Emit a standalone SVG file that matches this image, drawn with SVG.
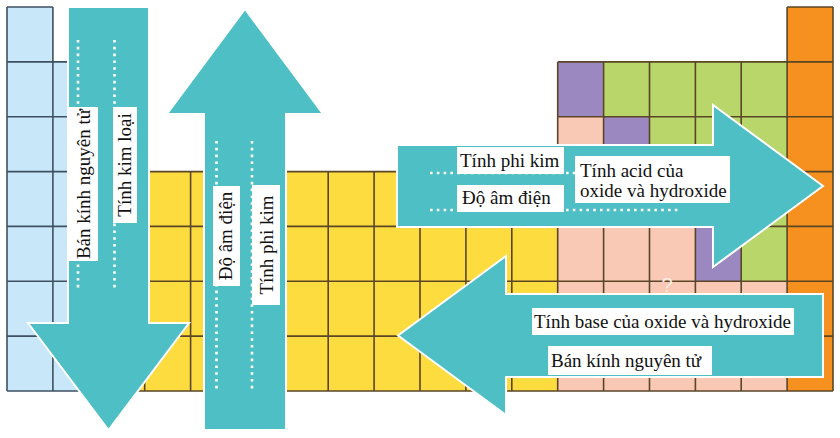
<svg xmlns="http://www.w3.org/2000/svg" width="840" height="438" viewBox="0 0 840 438">
<style>
.lb{fill:#c8e7f8}
.ye{fill:#fcdc3f}
.pk{fill:#fac9b5}
.gr{fill:#b9d66b}
.pu{fill:#9c88c1}
.or{fill:#f6901f}
.gb{fill:none;stroke:#3f5063;stroke-width:1.6}
.gl{fill:none;stroke:#5a4627;stroke-width:1.6}
.arrow{fill:#4ebfc4;stroke:#ffffff;stroke-width:2;stroke-linejoin:miter}
.dot{fill:none;stroke:#ffffff;stroke-width:2.6;stroke-dasharray:2.6 4.2}
.box{fill:#ffffff}
</style>
<rect width="840" height="438" fill="#ffffff"/>
<g id="table">
  <rect class="lb" x="7" y="7" width="45.9" height="384"/>
  <rect class="lb" x="52.9" y="61.9" width="45.9" height="329.1"/>
  <rect class="ye" x="98.8" y="171.6" width="458.9" height="219.4"/>
  <rect class="pk" x="557.7" y="61.9" width="229.4" height="329.1"/>
  <rect class="pu" x="557.7" y="61.9" width="45.9" height="54.8"/>
  <rect class="gr" x="603.6" y="61.9" width="183.5" height="54.8"/>
  <rect class="pu" x="603.6" y="116.7" width="45.9" height="54.9"/>
  <rect class="gr" x="649.5" y="116.7" width="137.6" height="54.9"/>
  <rect class="pu" x="649.5" y="171.6" width="45.9" height="54.8"/>
  <rect class="gr" x="695.4" y="171.6" width="91.7" height="54.8"/>
  <rect class="pu" x="695.4" y="226.4" width="45.8" height="54.9"/>
  <rect class="gr" x="741.2" y="226.4" width="45.9" height="54.9"/>
  <rect class="or" x="787.1" y="7" width="45.9" height="384"/>
  <path class="gb" d="M7 7H52.9M7 61.9H98.8M7 116.7H98.8M7 171.6H98.8M7 226.4H98.8M7 281.3H98.8M7 336.1H98.8M7 391H98.8M7 7V391M52.9 7V391M98.8 61.9V171.6"/>
  <path class="gl" d="M98.8 171.6V391M144.7 171.6V391M190.6 171.6V391M236.4 171.6V391M282.3 171.6V391M328.2 171.6V391M374.1 171.6V391M420 171.6V391M465.9 171.6V391M511.8 171.6V391M557.7 61.9V391M603.6 61.9V391M649.5 61.9V391M695.4 61.9V391M741.2 61.9V391M787.1 7V391M833 7V391M787.1 7H833M557.7 61.9H833M557.7 116.7H833M98.8 171.6H833M98.8 226.4H833M98.8 281.3H833M98.8 336.1H833M98.8 391H833"/>
  <text x="667" y="292" text-anchor="middle" font-family="Liberation Sans, Arial, sans-serif" font-size="20" fill="#fdebe3">?</text>
</g>
<g id="connectors" font-family="'Liberation Serif', 'Times New Roman', serif" font-size="19" fill="#111111">
  <g id="arrow-down">
    <path class="arrow" d="M68 7H149V323H189L108.5 430L28 323H68Z"/>
    <path class="dot" d="M78 40V290M114.5 40V290"/>
    <rect class="box" x="68" y="107" width="30" height="154"/>
    <rect class="box" x="113" y="107" width="24" height="116"/>
    <text text-anchor="middle" transform="translate(89.5 184) rotate(-90)">Bán kính nguyên tử</text>
    <text text-anchor="middle" transform="translate(131 165) rotate(-90)">Tính kim loại</text>
  </g>
  <g id="arrow-up">
    <path class="arrow" d="M204 430V114H167L245 9L323 114H286V430Z"/>
    <path class="dot" d="M216.5 141V391M252 141V391"/>
    <rect class="box" x="213" y="186" width="27" height="100"/>
    <rect class="box" x="252" y="185" width="28" height="120"/>
    <text text-anchor="middle" transform="translate(232 236) rotate(-90)">Độ âm điện</text>
    <text text-anchor="middle" transform="translate(273 245) rotate(-90)">Tính phi kim</text>
  </g>
  <g id="arrow-right">
    <path class="arrow" d="M397 145H713V105L823 186L713 267V227H397Z"/>
    <path class="dot" d="M430 173H575M430 210H678"/>
    <rect class="box" x="457" y="147" width="107" height="27"/>
    <rect class="box" x="457" y="185" width="107" height="27"/>
    <rect class="box" x="575" y="156" width="155" height="47"/>
    <text x="460" y="167">Tính phi kim</text>
    <text x="462" y="204">Độ âm điện</text>
    <text x="580" y="177">Tính acid của</text>
    <text x="580" y="197">oxide và hydroxide</text>
  </g>
  <g id="arrow-left">
    <path class="arrow" d="M823 294V377H506V415L398 335.5L506 256V294Z"/>
    <rect class="box" x="532" y="308" width="262" height="27"/>
    <rect class="box" x="548" y="346" width="164" height="29"/>
    <text x="534" y="328">Tính base của oxide và hydroxide</text>
    <text x="551" y="367">Bán kính nguyên tử</text>
  </g>
</g>
</svg>
